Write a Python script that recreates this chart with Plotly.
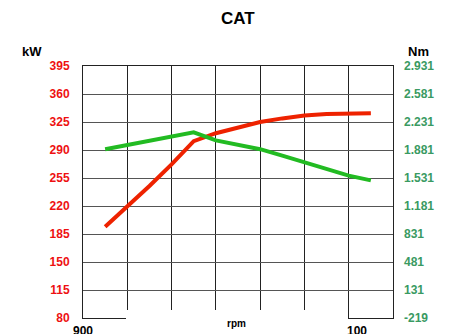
import plotly.graph_objects as go

# ---- data ----
rpm = [1000, 1100, 1200, 1300, 1400, 1500, 1600, 1700, 1800, 1900, 2000, 2100, 2200]
power_kw = [194, 219, 245, 272, 301, 311, 318.5, 325, 329.5, 333, 335, 336, 336]
torque_nm = [1891, 1946, 2001, 2051, 2101, 2001, 1941, 1891, 1811, 1731, 1641, 1561, 1501]

kw_ticks = [80, 115, 150, 185, 220, 255, 290, 325, 360, 395]
nm_ticks = [-219, 131, 481, 831, 1181, 1531, 1881, 2231, 2581, 2931]
nm_tick_labels = ["-219", "131", "481", "831", "1.181", "1.531", "1.881", "2.231", "2.581", "2.931"]
x_label_rpm = [900, 2100]
x_labels = ["900", "100"]

RED = "#ee2200"
GREEN = "#22bb22"
TXT_RED = "#ee1111"
TXT_GREEN = "#3a9a62"
FONT = "Liberation Sans"

fig = go.Figure()
fig.add_trace(go.Scatter(x=rpm, y=power_kw, mode="lines", line=dict(color=RED, width=4),
                         yaxis="y", showlegend=False, hoverinfo="skip"))
fig.add_trace(go.Scatter(x=rpm, y=torque_nm, mode="lines", line=dict(color=GREEN, width=4),
                         yaxis="y2", showlegend=False, hoverinfo="skip"))

W, H = 452, 334
L, R, T, B = 83, 59, 66, 16
pw, ph = W - L - R, H - T - B

def px_x(p):
    return (p - L) / pw

def px_y(p):
    return 1 - (p - T) / ph

fig.update_layout(
    width=W, height=H,
    margin=dict(l=L, r=R, t=T, b=B, autoexpand=False),
    paper_bgcolor="white", plot_bgcolor="white",
    xaxis=dict(range=[900, 2300], tick0=900, dtick=200, showgrid=True, gridcolor="#222",
               gridwidth=1, showticklabels=False, zeroline=False, ticks="",
               showline=True, linecolor="#222", linewidth=1, mirror=True),
    yaxis=dict(range=[80, 395], tickvals=kw_ticks, showgrid=True, gridcolor="#555",
               gridwidth=1, zeroline=False, ticks="", showline=True, linecolor="#222",
               linewidth=1, mirror=True, ticklabelstandoff=10,
               tickfont=dict(family=FONT, size=12, color=TXT_RED, weight="bold")),
    yaxis2=dict(range=[-219, 2931], tickvals=nm_ticks, ticktext=nm_tick_labels,
                overlaying="y", side="right", showgrid=False, zeroline=False, ticks="",
                ticklabelstandoff=10,
                tickfont=dict(family=FONT, size=12, color=TXT_GREEN, weight="bold")),
    font=dict(family=FONT),
    hovermode=False,
)

# white mask over bottom middle (as in reference)
fig.add_shape(type="rect", xref="paper", yref="paper",
              x0=px_x(126), x1=px_x(348), y0=px_y(334), y1=px_y(310),
              fillcolor="white", line=dict(width=0), layer="above")

anns = [
    dict(text="CAT", x=0.5, y=px_y(18), xref="paper", yref="paper",
         font=dict(size=17, color="black", family=FONT, weight="bold")),
    dict(text="kW", x=px_x(32), y=px_y(52), xref="paper", yref="paper",
         font=dict(size=13, color="black", family=FONT, weight="bold")),
    dict(text="Nm", x=px_x(418), y=px_y(52), xref="paper", yref="paper",
         font=dict(size=13, color="black", family=FONT, weight="bold")),
    dict(text="rpm", x=px_x(236), y=px_y(323), xref="paper", yref="paper",
         font=dict(size=10, color="black", family=FONT, weight="bold")),
]
for xv, lab in zip(x_label_rpm, x_labels):
    shift = 8 if lab == "100" else 0
    anns.append(dict(text=lab, x=xv, xref="x", y=px_y(331), yref="paper", xshift=shift,
                     font=dict(size=12, color="black", family=FONT, weight="bold")))
for a in anns:
    a.update(showarrow=False, xanchor="center", yanchor="middle")
fig.update_layout(annotations=anns)

fig.write_html("out.html", config={"displayModeBar": False, "staticPlot": True},
               post_script="document.body.style.margin='0';document.body.style.padding='0';")
